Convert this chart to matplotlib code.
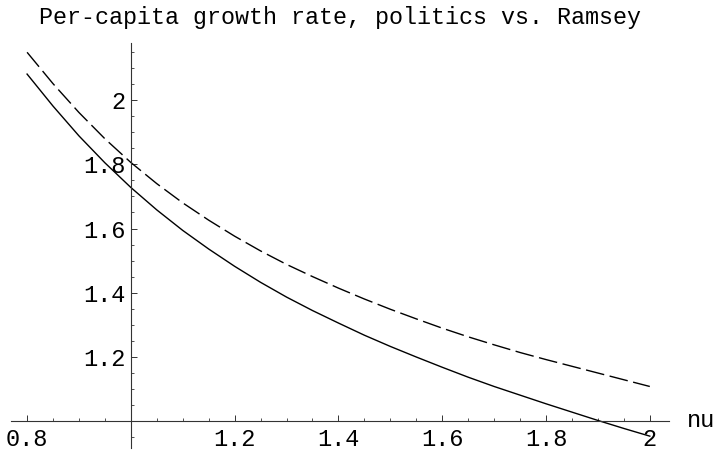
import matplotlib
matplotlib.use("Agg")
import matplotlib.pyplot as plt
import numpy as np

nu = [0.80, 0.85, 0.90, 0.95, 1.00, 1.05, 1.10, 1.15, 1.20, 1.25, 1.30, 1.35, 1.40,
      1.45, 1.50, 1.55, 1.60, 1.65, 1.70, 1.75, 1.80, 1.85, 1.90, 1.95, 2.00]
politics = [2.082, 1.982, 1.889, 1.805, 1.728, 1.658, 1.594, 1.536, 1.482, 1.432, 1.386,
            1.344, 1.305, 1.267, 1.232, 1.199, 1.167, 1.136, 1.107, 1.080, 1.053, 1.027,
            1.001, 0.976, 0.952]
ramsey = [2.150, 2.052, 1.962, 1.880, 1.806, 1.740, 1.680, 1.626, 1.576, 1.530, 1.488,
          1.450, 1.414, 1.380, 1.348, 1.318, 1.289, 1.262, 1.237, 1.213, 1.191, 1.170,
          1.149, 1.128, 1.107]

x_ticks = [0.8, 1.2, 1.4, 1.6, 1.8, 2.0]
x_labels = ["0.8", "1.2", "1.4", "1.6", "1.8", "2"]
y_ticks = [1.2, 1.4, 1.6, 1.8, 2.0]
y_labels = ["1.2", "1.4", "1.6", "1.8", "2"]

plt.rcParams["font.family"] = ["Liberation Mono", "DejaVu Sans Mono"]
plt.rcParams["lines.scale_dashes"] = False

fig = plt.figure(figsize=(7.19, 4.51), dpi=100)
ax = fig.add_axes([11 / 719, 3 / 451, 658 / 719, 405 / 451])
ax.set_xlim(0.769, 2.037)
ax.set_ylim(0.915, 2.179)

ax.plot(nu, politics, color="black", lw=1.0, solid_joinstyle="round")
ax.plot(nu, ramsey, color="black", lw=1.0, linestyle=(0, (13.5, 4.0)))

for side in ("top", "right"):
    ax.spines[side].set_visible(False)
ax.spines["left"].set_position(("data", 1.0))
ax.spines["bottom"].set_position(("data", 1.0))
for side in ("left", "bottom"):
    ax.spines[side].set_linewidth(0.8)
    ax.spines[side].set_color("#333333")

ax.set_xticks(x_ticks)
ax.set_xticklabels(x_labels)
ax.set_yticks(y_ticks)
ax.set_yticklabels(y_labels)
ax.set_xticks(np.arange(0.8, 2.0001, 0.05), minor=True)
ax.set_yticks(np.arange(0.95, 2.1501, 0.05), minor=True)

ax.tick_params(which="major", direction="in", length=4.5, width=0.7, color="#333333",
               labelsize=17, pad=4)
ax.tick_params(which="minor", direction="in", length=2.5, width=0.6, color="#333333")
ax.tick_params(axis="x", pad=5)

ax.text(2.072, 1.0, "nu", fontsize=17, ha="left", va="center")
ax.set_title("Per-capita growth rate, politics vs. Ramsey", fontsize=16.8, pad=14)

fig.savefig("out.png", dpi=100)
